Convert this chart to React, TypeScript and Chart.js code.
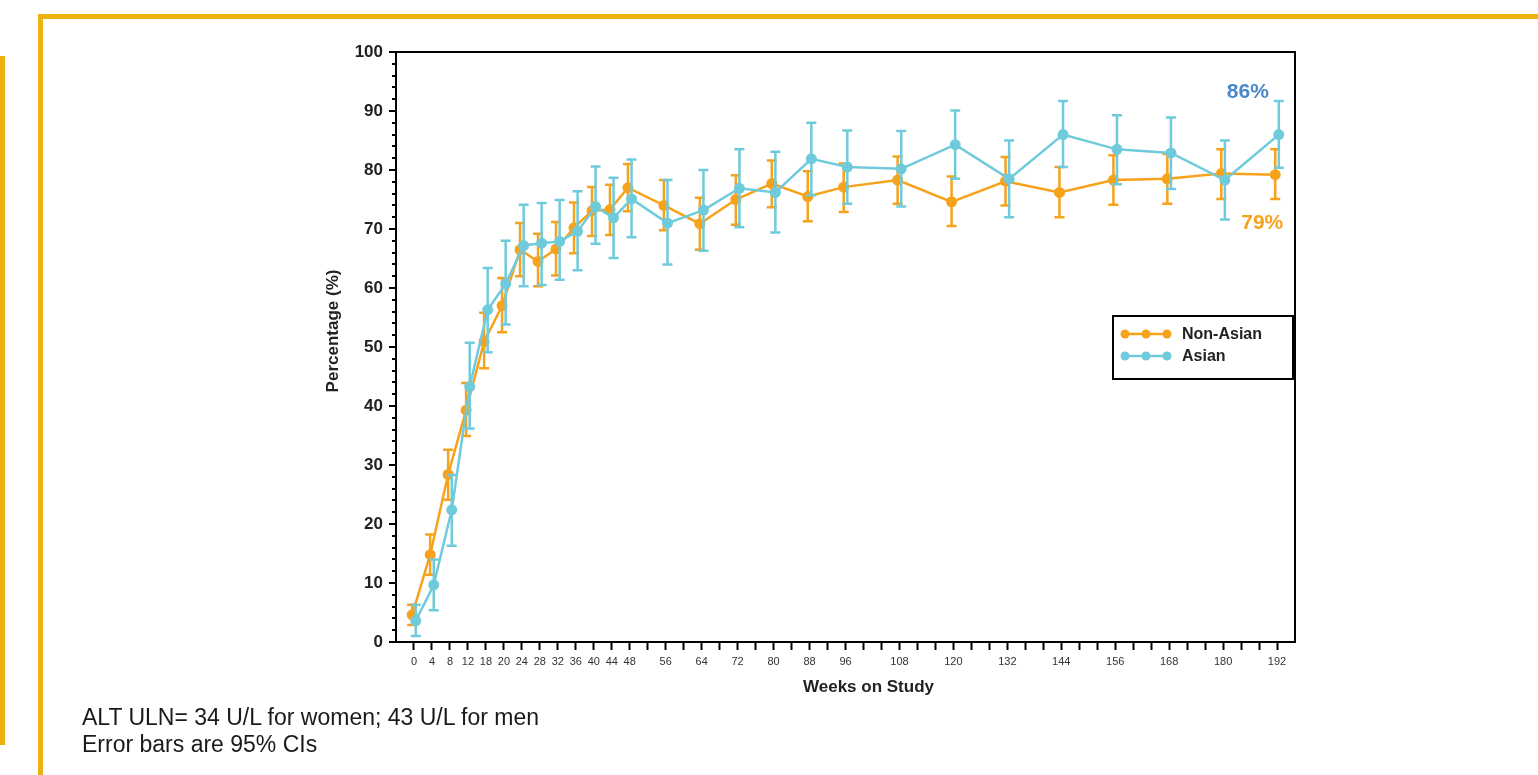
import React, { useEffect, useRef } from 'react';
import { Chart, registerables } from 'chart.js';

Chart.register(...registerables);

// ---------- data ----------
const weeks = [0, 4, 8, 12, 16, 20, 24, 28, 32, 36, 40, 44, 48, 56, 64, 72, 80, 88, 96, 108, 120, 132, 144, 156, 168, 180, 192];
const xTickLabels = ['0', '4', '8', '12', '18', '20', '24', '28', '32', '36', '40', '44', '48', '56', '64', '72', '80', '88', '96', '108', '120', '132', '144', '156', '168', '180', '192'];
const yMajorTicks = [0, 10, 20, 30, 40, 50, 60, 70, 80, 90, 100];

const seriesNames = ['Non-Asian', 'Asian'];
const endLabels = ['79%', '86%'];
const xTitle = 'Weeks on Study';
const yTitle = 'Percentage (%)';

const nonAsian = [4.6, 14.8, 28.4, 39.3, 50.9, 57.0, 66.5, 64.5, 66.6, 70.2, 73.1, 73.3, 77.0, 74.0, 70.9, 75.0, 77.7, 75.5, 77.1, 78.3, 74.6, 78.1, 76.2, 78.3, 78.5, 79.4, 79.2];
const nonAsianUpper = [6.3, 18.2, 32.6, 43.9, 55.8, 61.7, 71.0, 69.2, 71.2, 74.5, 77.1, 77.5, 81.0, 78.3, 75.3, 79.1, 81.6, 79.8, 81.1, 82.3, 78.9, 82.2, 80.5, 82.5, 82.7, 83.5, 83.5];
const nonAsianLower = [2.9, 11.4, 24.1, 34.9, 46.4, 52.5, 62.0, 60.3, 62.1, 65.9, 68.8, 69.0, 73.0, 69.8, 66.5, 70.7, 73.7, 71.3, 72.9, 74.3, 70.5, 74.0, 72.0, 74.1, 74.3, 75.1, 75.1];

const asian = [3.6, 9.7, 22.4, 43.3, 56.3, 60.7, 67.2, 67.6, 67.9, 69.6, 73.8, 71.9, 75.1, 71.0, 73.2, 76.9, 76.2, 81.9, 80.5, 80.2, 84.3, 78.5, 86.0, 83.5, 82.9, 78.3, 86.0];
const asianUpper = [6.3, 14.0, 28.3, 50.7, 63.4, 68.0, 74.1, 74.4, 74.9, 76.4, 80.6, 78.7, 81.8, 78.3, 80.0, 83.5, 83.1, 88.0, 86.7, 86.6, 90.1, 85.0, 91.7, 89.3, 88.9, 85.0, 91.7];
const asianLower = [1.0, 5.4, 16.3, 36.2, 49.1, 53.8, 60.3, 60.5, 61.4, 63.0, 67.5, 65.1, 68.6, 64.0, 66.3, 70.3, 69.4, 75.7, 74.3, 73.8, 78.5, 72.0, 80.5, 77.6, 76.8, 71.6, 80.4];

// ---------- styles ----------
const ORANGE = '#F7A21B';
const CYAN = '#6FCBDC';
const BLUE_LABEL = '#4A89C8';
const GOLD = '#EEB112';
const FONT = '"Liberation Sans", Arial, Helvetica, sans-serif';
const DODGE = 0.4;

const errorBars = [
  { upper: nonAsianUpper, lower: nonAsianLower, color: ORANGE },
  { upper: asianUpper, lower: asianLower, color: CYAN },
];

const errorBarPlugin = {
  id: 'errorBars',
  beforeDatasetDraw(chart: any, args: any) {
    const idx = args.index;
    const eb = errorBars[idx];
    if (!eb) return;
    const { ctx, scales } = chart;
    const ds = chart.data.datasets[idx];
    ctx.save();
    ctx.strokeStyle = eb.color;
    ctx.lineWidth = 2.5;
    ds.data.forEach((p: any, i: number) => {
      const x = scales.x.getPixelForValue(p.x);
      const yt = scales.y.getPixelForValue(eb.upper[i]);
      const yb = scales.y.getPixelForValue(eb.lower[i]);
      ctx.beginPath();
      ctx.moveTo(x, yt);
      ctx.lineTo(x, yb);
      ctx.moveTo(x - 5, yt);
      ctx.lineTo(x + 5, yt);
      ctx.moveTo(x - 5, yb);
      ctx.lineTo(x + 5, yb);
      ctx.stroke();
    });
    ctx.restore();
  },
};

const decorPlugin = {
  id: 'decor',
  afterDraw(chart: any) {
    const { ctx, chartArea: ca, scales } = chart;
    ctx.save();
    // frame top & right
    ctx.strokeStyle = '#000';
    ctx.lineWidth = 2;
    ctx.beginPath();
    ctx.moveTo(ca.left, ca.top);
    ctx.lineTo(ca.right, ca.top);
    ctx.lineTo(ca.right, ca.bottom);
    ctx.stroke();
    // y ticks (major/minor)
    scales.y.ticks.forEach((t: any) => {
      const y = Math.round(scales.y.getPixelForValue(t.value));
      const len = yMajorTicks.includes(t.value) ? 7 : 4;
      ctx.beginPath();
      ctx.moveTo(ca.left, y);
      ctx.lineTo(ca.left - len, y);
      ctx.stroke();
    });

    // axis titles
    ctx.fillStyle = '#222';
    ctx.font = `bold 17px ${FONT}`;
    ctx.textAlign = 'center';
    ctx.textBaseline = 'middle';
    ctx.fillText(xTitle, (ca.left + ca.right) / 2 + 23, ca.bottom + 45);
    ctx.save();
    ctx.translate(ca.left - 63, (ca.top + ca.bottom) / 2 - 16);
    ctx.rotate(-Math.PI / 2);
    ctx.fillText(yTitle, 0, 0);
    ctx.restore();

    // end labels
    ctx.font = `bold 21px ${FONT}`;
    ctx.textAlign = 'center';
    ctx.textBaseline = 'middle';
    const mA = chart.getDatasetMeta(1);
    const lastA = mA.data[mA.data.length - 1];
    ctx.fillStyle = BLUE_LABEL;
    ctx.fillText(endLabels[1], lastA.x - 31, lastA.y - 42);
    const mN = chart.getDatasetMeta(0);
    const lastN = mN.data[mN.data.length - 1];
    ctx.fillStyle = ORANGE;
    ctx.fillText(endLabels[0], lastN.x - 13, lastN.y + 48);

    // legend
    const lx = ca.right - 182;
    const ly = ca.top + 264;
    ctx.strokeStyle = '#000';
    ctx.lineWidth = 2;
    ctx.strokeRect(lx, ly, 180, 63);
    const colors = [ORANGE, CYAN];
    seriesNames.forEach((name, i) => {
      const y = ly + 18 + i * 22;
      ctx.strokeStyle = colors[i];
      ctx.fillStyle = colors[i];
      ctx.lineWidth = 2.5;
      ctx.beginPath();
      ctx.moveTo(lx + 9, y);
      ctx.lineTo(lx + 57, y);
      ctx.stroke();
      [lx + 12, lx + 33, lx + 54].forEach((cx) => {
        ctx.beginPath();
        ctx.arc(cx, y, 4.5, 0, Math.PI * 2);
        ctx.fill();
      });
      ctx.fillStyle = '#222';
      ctx.font = `bold 16px ${FONT}`;
      ctx.textAlign = 'left';
      ctx.textBaseline = 'middle';
      ctx.fillText(name, lx + 69, y + 1);
    });
    ctx.restore();
  },
};

function ChartView() {
  const ref = useRef<HTMLCanvasElement | null>(null);
  useEffect(() => {
    if (!ref.current) return;
    Chart.defaults.font.family = FONT;
    const chart = new Chart(ref.current, {
      type: 'line',
      data: {
        datasets: [
          {
            label: seriesNames[0],
            data: weeks.map((w, i) => ({ x: w - DODGE, y: nonAsian[i] })),
            borderColor: ORANGE,
            backgroundColor: ORANGE,
            pointBackgroundColor: ORANGE,
            pointBorderWidth: 0,
            pointRadius: 5.5,
            borderWidth: 2.5,
            tension: 0,
            order: 1,
          },
          {
            label: seriesNames[1],
            data: weeks.map((w, i) => ({ x: w + DODGE, y: asian[i] })),
            borderColor: CYAN,
            backgroundColor: CYAN,
            pointBackgroundColor: CYAN,
            pointBorderWidth: 0,
            pointRadius: 5.5,
            borderWidth: 2.5,
            tension: 0,
            order: 0,
          },
        ],
      },
      options: {
        animation: false,
        responsive: false,
        layout: { padding: { left: 321, top: 52, right: 243, bottom: 73 } },
        plugins: { legend: { display: false }, tooltip: { enabled: false } },
        scales: {
          x: {
            type: 'linear',
            min: -4,
            max: 196,
            afterFit: (s: any) => { s.height = 60; },
            grid: {
              drawOnChartArea: false,
              drawTicks: true,
              tickLength: 8,
              tickWidth: 2,
              tickColor: (c: any) => (c.tick && (c.tick.value < 0 || c.tick.value > 192) ? 'rgba(0,0,0,0)' : '#000'),
            },
            border: { display: true, color: '#000', width: 2 },
            ticks: {
              stepSize: 4,
              autoSkip: false,
              maxRotation: 0,
              minRotation: 0,
              padding: 5,
              color: '#333',
              font: { size: 11 },
              callback: (v: any) => {
                const i = weeks.indexOf(Number(v));
                return i >= 0 ? xTickLabels[i] : '';
              },
            },
          },
          y: {
            min: 0,
            max: 100,
            afterFit: (s: any) => { s.width = 75; },
            grid: { drawOnChartArea: false, drawTicks: false },
            border: { display: true, color: '#000', width: 2 },
            ticks: {
              stepSize: 2,
              autoSkip: false,
              padding: 13,
              color: '#222',
              font: { size: 17, weight: 'bold' },
              callback: (v: any) => (yMajorTicks.includes(Number(v)) ? String(v) : ''),
            },
          },
        },
      },
      plugins: [errorBarPlugin, decorPlugin],
    } as any);
    return () => chart.destroy();
  }, []);
  return (
    <canvas
      ref={ref}
      width={1538}
      height={775}
      style={{ position: 'absolute', left: 0, top: 0, width: 1538, height: 775, display: 'block' }}
    />
  );
}

export default function App() {
  return (
    <div style={{ position: 'absolute', left: 0, top: 0, width: 1538, height: 775, overflow: 'hidden', background: '#fff' }}>
      {/* partial frame of neighbouring panel */}
      <div style={{ position: 'absolute', left: -30, top: 56, width: 25, height: 679, border: `5px solid ${GOLD}` }} />
      {/* main frame */}
      <div style={{ position: 'absolute', left: 38, top: 14, width: 1600, height: 900, borderLeft: `5px solid ${GOLD}`, borderTop: `5px solid ${GOLD}` }} />
      <ChartView />
      <div
        style={{
          position: 'absolute',
          left: 82,
          top: 704,
          fontFamily: FONT,
          fontSize: 23,
          lineHeight: '27px',
          color: '#1a1a1a',
          whiteSpace: 'nowrap',
        }}
      >
        <div>ALT ULN= 34 U/L for women; 43 U/L for men</div>
        <div>Error bars are 95% CIs</div>
      </div>
    </div>
  );
}
